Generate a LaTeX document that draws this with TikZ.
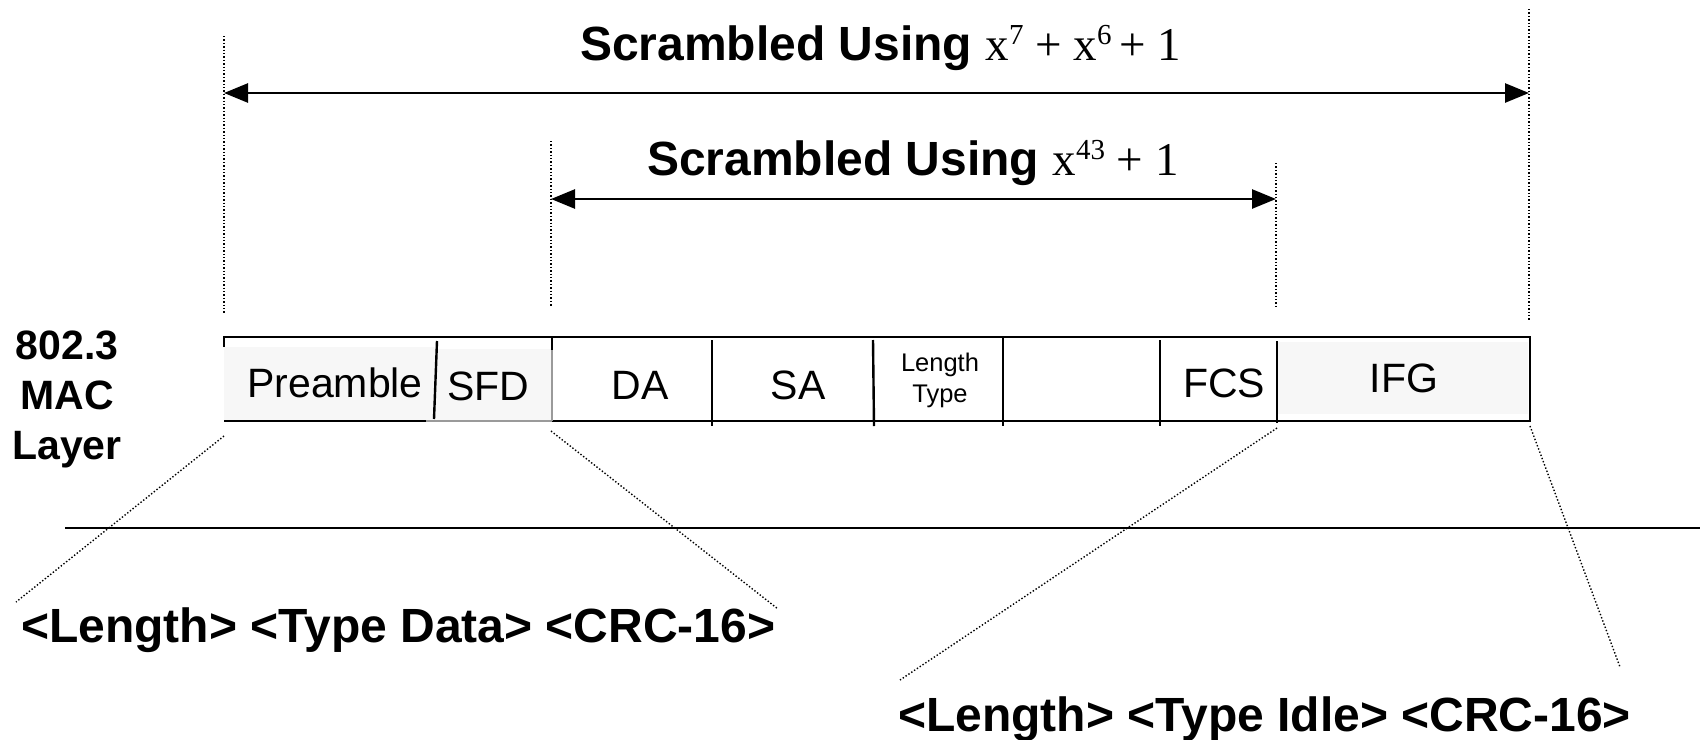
\documentclass[tikz,border=0pt]{standalone}
\usepackage{fontspec}
\setmainfont{Liberation Sans}
\newfontfamily\tnr{Liberation Serif}
\usetikzlibrary{arrows.meta}
\definecolor{cellshade}{HTML}{F7F7F7}
\definecolor{lightedge}{HTML}{9A9A9A}
\newcommand{\supnum}[1]{\raisebox{16pt}{\fontsize{29}{30}\selectfont #1}}
\begin{document}
\begin{tikzpicture}[x=1pt,y=-1pt,
  boldtxt/.style={font=\fontsize{48}{52}\selectfont\bfseries, inner sep=0pt},
  celltxt/.style={font=\fontsize{41}{46}\selectfont, inner sep=0pt},
  smalltxt/.style={font=\fontsize{25.5}{31}\selectfont, inner sep=0pt, align=center},
  dimline/.style={line width=2.6pt, {Triangle[length=24pt,width=19pt]}-{Triangle[length=24pt,width=19pt]}},
  guide/.style={line width=1.4pt, dash pattern=on 1.4pt off 2pt},
  edge/.style={line width=2.4pt}]
\useasboundingbox (0,0) rectangle (1700,739);

% titles
\node[boldtxt, anchor=base west] (t1) at (580,60) {Scrambled Using {\tnr\mdseries\fontsize{47}{50}\selectfont x\supnum{7} + x\supnum{6}\,+ 1}};
\node[boldtxt, anchor=base west] (t2) at (647,175) {Scrambled Using {\tnr\mdseries\fontsize{47}{50}\selectfont x\supnum{43} + 1}};

% guide coordinates
\coordinate (g1t) at (224,36);  \coordinate (g1b) at (224,314);
\coordinate (g2t) at (1529,9);  \coordinate (g2b) at (1529,320);
\coordinate (g3t) at (551,141); \coordinate (g3b) at (551,307);
\coordinate (g4t) at (1276,163);\coordinate (g4b) at (1276,307);
\draw[guide] (g1t) -- (g1b);
\draw[guide] (g2t) -- (g2b);
\draw[guide] (g3t) -- (g3b);
\draw[guide] (g4t) -- (g4b);

% dimension arrows
\coordinate (a1l) at (224,93);  \coordinate (a1r) at (1529,93);
\coordinate (a2l) at (551,199); \coordinate (a2r) at (1276,199);
\draw[dimline] (a1l) -- (a1r);
\draw[dimline] (a2l) -- (a2r);

% frame shading
\fill[cellshade] (224,347) rectangle (436,421);
\fill[cellshade] (436,349) rectangle (552,421);
\fill[cellshade] (1278,342) rectangle (1528,414);

% frame outline
\coordinate (fTL) at (224,337); \coordinate (fTR) at (1530,337);
\coordinate (fBL) at (224,421); \coordinate (fBR) at (1530,421);
\draw[edge] (224,347) -- (fTL) -- (fTR) -- (fBR) -- (552,421);
\draw[edge] (fBL) -- (426,421);
\draw[line width=1.2pt, lightedge] (426,421) -- (552,421);
\draw[line width=1.2pt, lightedge] (552,350) -- (552,421);
\draw[edge] (552,337) -- (552,350);
% dividers
\draw[edge] (437,341) -- (434,419);
\draw[edge] (712,340) -- (712,426);
\draw[edge] (873,340) -- (874,426);
\draw[edge] (1003,337) -- (1003,426);
\draw[edge] (1160,340) -- (1160,426);
\draw[edge] (1277,341) -- (1277,423);

% cell texts
\node[celltxt] (pre) at (335,383) {Preamble};
\node[celltxt] (sfd) at (488,386) {SFD};
\node[celltxt] (da) at (640,385) {DA};
\node[celltxt] (sa) at (798,385) {SA};
\node[smalltxt] (lt) at (940,380) {Length\\Type};
\node[celltxt] (fcs) at (1224,383) {FCS};
\node[celltxt] (ifg) at (1404,378) {IFG};

% side label
\node[font=\fontsize{41}{50}\selectfont\bfseries, align=center, inner sep=0pt] (mac) at (67,399) {802.3\\MAC\\Layer};

% separator
\coordinate (sepL) at (65,528); \coordinate (sepR) at (1700,528);
\draw[line width=1.8pt] (sepL) -- (sepR);

% bottom texts
\node[boldtxt, anchor=base west] (data) at (21,642) {<Length> <Type Data> <CRC-16>};
\node[boldtxt, anchor=base west] (idle) at (898,731) {<Length> <Type Idle> <CRC-16>};

% expansion guides
\coordinate (d1a) at (224,436);  \coordinate (d1b) at (16,602);
\coordinate (d2a) at (551,431);  \coordinate (d2b) at (778,609);
\coordinate (d3a) at (1277,428); \coordinate (d3b) at (900,680);
\coordinate (d4a) at (1530,426); \coordinate (d4b) at (1620,667);
\draw[guide] (d1a) -- (d1b);
\draw[guide] (d2a) -- (d2b);
\draw[guide] (d3a) -- (d3b);
\draw[guide] (d4a) -- (d4b);
\end{tikzpicture}
\end{document}
